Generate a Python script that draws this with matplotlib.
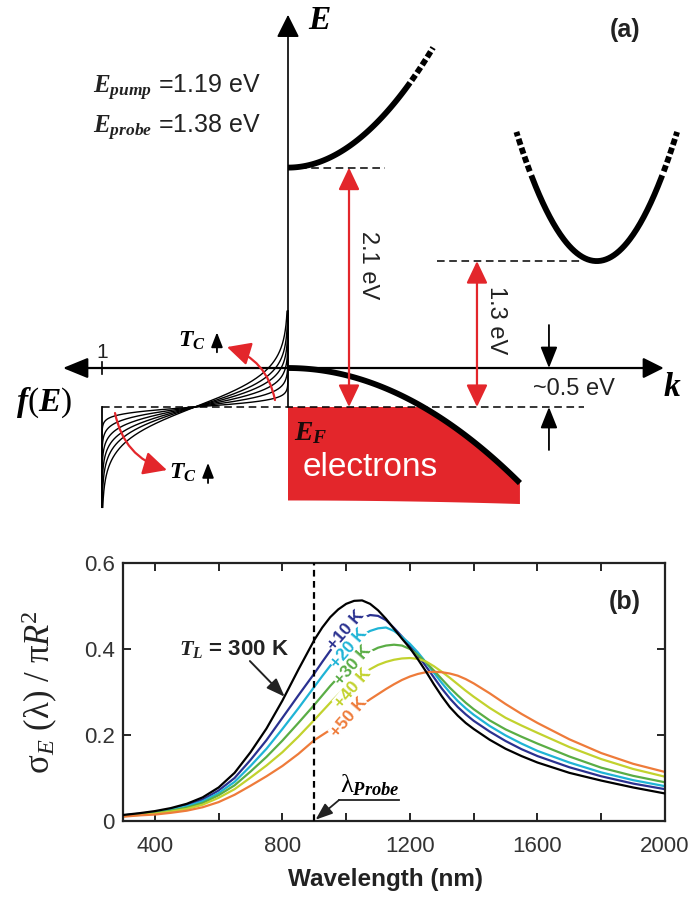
import numpy as np
import matplotlib.pyplot as plt

plt.rcParams['font.family'] = ['Liberation Sans', 'DejaVu Sans']
plt.rcParams['mathtext.fontset'] = 'custom'
plt.rcParams['mathtext.it'] = 'Liberation Serif:italic:bold'
plt.rcParams['mathtext.rm'] = 'Liberation Serif'
plt.rcParams['mathtext.sf'] = 'Liberation Serif:italic'
plt.rcParams['mathtext.bf'] = 'Liberation Serif:bold'

###################################################################
# panel (b): extinction cross section sigma_E / pi R^2
wavelength = [300, 350, 400, 450, 500, 550, 600, 650, 700, 750, 800, 850,
              900, 925, 950, 975, 1000, 1025, 1050, 1075, 1100, 1125, 1150, 1175, 1200,
              1225, 1250, 1275, 1300, 1325, 1350, 1375, 1400,
              1450, 1500, 1550, 1600, 1700, 1800, 1900, 2000]
sigma_300K = [0.014, 0.018, 0.023, 0.030, 0.040, 0.055, 0.078, 0.112, 0.160, 0.215, 0.280, 0.352,
              0.421, 0.450, 0.474, 0.492, 0.505, 0.512, 0.513, 0.505, 0.490, 0.470, 0.447, 0.424, 0.402,
              0.376, 0.348, 0.318, 0.290, 0.265, 0.245, 0.228, 0.214,
              0.189, 0.168, 0.151, 0.136, 0.112, 0.094, 0.078, 0.064]
sigma_p10 = [0.013, 0.017, 0.021, 0.028, 0.037, 0.050, 0.071, 0.100, 0.142, 0.188, 0.240, 0.292,
             0.343, 0.370, 0.396, 0.420, 0.440, 0.457, 0.471, 0.479, 0.477, 0.467, 0.449, 0.429, 0.408,
             0.385, 0.360, 0.334, 0.308, 0.285, 0.265, 0.248, 0.233,
             0.208, 0.186, 0.167, 0.151, 0.125, 0.104, 0.087, 0.074]
sigma_p20 = [0.013, 0.016, 0.020, 0.026, 0.034, 0.046, 0.065, 0.091, 0.128, 0.168, 0.214, 0.262,
             0.312, 0.337, 0.361, 0.384, 0.403, 0.419, 0.432, 0.442, 0.448, 0.450, 0.442, 0.428, 0.412,
             0.392, 0.369, 0.345, 0.321, 0.299, 0.279, 0.262, 0.247,
             0.221, 0.199, 0.180, 0.163, 0.136, 0.113, 0.095, 0.081]
sigma_p30 = [0.012, 0.015, 0.018, 0.024, 0.031, 0.042, 0.060, 0.083, 0.115, 0.149, 0.187, 0.228,
             0.270, 0.292, 0.314, 0.334, 0.352, 0.368, 0.382, 0.394, 0.403, 0.408, 0.410, 0.408, 0.400,
             0.386, 0.369, 0.350, 0.330, 0.310, 0.292, 0.275, 0.260,
             0.234, 0.213, 0.196, 0.180, 0.150, 0.124, 0.105, 0.090]
sigma_p40 = [0.011, 0.014, 0.017, 0.022, 0.028, 0.038, 0.054, 0.074, 0.101, 0.129, 0.160, 0.196,
             0.235, 0.255, 0.275, 0.294, 0.311, 0.327, 0.341, 0.353, 0.363, 0.370, 0.375, 0.378, 0.379,
             0.377, 0.371, 0.360, 0.347, 0.333, 0.318, 0.303, 0.289,
             0.263, 0.240, 0.222, 0.205, 0.172, 0.144, 0.121, 0.103]
sigma_p50 = [0.010, 0.013, 0.015, 0.019, 0.024, 0.032, 0.044, 0.061, 0.082, 0.104, 0.128, 0.156,
             0.188, 0.200, 0.212, 0.226, 0.241, 0.256, 0.270, 0.283, 0.295, 0.307, 0.318, 0.328, 0.336,
             0.342, 0.346, 0.347, 0.346, 0.343, 0.338, 0.330, 0.320,
             0.297, 0.272, 0.249, 0.228, 0.190, 0.158, 0.133, 0.114]
hot_curves = [sigma_p10, sigma_p20, sigma_p30, sigma_p40, sigma_p50]
hot_labels = ['+10 K', '+20 K', '+30 K', '+40 K', '+50 K']
hot_colors = ['#2a3190', '#1fb4d6', '#5aad45', '#c2d22e', '#ee7b3a']
label_pos = [(1000, 0.444), (1009, 0.402), (1022, 0.362), (1022, 0.309), (1009, 0.240)]
probe_nm = 900

# panel (a): band sketch, energies in eV above E_F, k in arb. units
cb_gamma_min = 2.10
cb_gamma_curv = 1.73
cb_L_min = 1.28
cb_L_k = 1.66
cb_L_curv = 6.07
vb_top = 0.342
vb_curv = 0.649
fermi_kT = [0.03, 0.055, 0.08, 0.105, 0.13, 0.16]
red = '#e3262b'

###################################################################
fig = plt.figure(figsize=(6.88, 9.05), dpi=100)

# sketch axes: 186 px per k unit, 114 px per eV, E axis at x px 288, E_F at y px 407
k_px, ev_px = 186.0, 114.0
ax = fig.add_axes([0, 0, 1, 1])
ax.set_xlim(-288 / k_px, (688 - 288) / k_px)
ax.set_ylim((407 - 905) / ev_px, 407 / ev_px)
ax.axis('off')

def arrow(ax, start, tip, color='k', lw=1.3, style='-|>', hl=0.8, hw=0.4, ms=14, **kw):
    ax.annotate('', xy=tip, xytext=start,
                arrowprops=dict(arrowstyle=f'{style},head_length={hl},head_width={hw}',
                                color=color, lw=lw, shrinkA=0, shrinkB=0,
                                mutation_scale=ms, **kw))

# axes of the sketch
arrow(ax, (0, 0), (0, 3.44), lw=1.2, hl=1.0, hw=0.5)
arrow(ax, (0, vb_top), (2.02, vb_top), lw=1.6, hl=0.9, hw=0.45)
arrow(ax, (0, vb_top), (-1.21, vb_top), lw=1.6, hl=1.1, hw=0.45)
ax.plot([-1, -1], [vb_top - 0.055, vb_top + 0.055], color='k', lw=1.2)
ax.text(-1, 0.48, '1', fontsize=15, ha='center', va='center', color='#222222')
ax.text(0.167, 3.386, r'$E$', fontsize=24, ha='center', va='center')
ax.text(2.065, 0.175, r'$k$', fontsize=24, ha='center', va='center')
ax.text(-1.312, 0.035, r'$f(E)$', fontsize=24, ha='center', va='center')

# Fermi-Dirac distributions for rising carrier temperature
E = np.linspace(-0.88, 0.84, 400)
for kT in fermi_kT:
    ax.plot(-1 / (1 + np.exp(E / kT)), E, color='k', lw=1.0)
ax.plot([-1, -1], [0, -0.88], color='k', lw=1.3)
ax.plot([-1, 1.59], [0, 0], color='k', lw=1.1, ls=(0, (5, 3)))

# filled electron sea below E_F
k_cross = np.sqrt(vb_top / vb_curv)
k_end = 1.247
kt = np.linspace(k_cross, k_end, 60)
kb = np.linspace(k_end, 0, 60)
xs = np.concatenate([[0], kt, kb])
ys = np.concatenate([[0], vb_top - vb_curv * kt ** 2, -0.82 - 0.02 * kb ** 2])
ax.fill(xs, ys, color=red, lw=0, zorder=1)

# bands
kv = np.linspace(0, k_end, 100)
ax.plot(kv, vb_top - vb_curv * kv ** 2, color='k', lw=4.2, solid_capstyle='butt', zorder=3)
kg = np.linspace(0, 0.656, 100)
ax.plot(kg, cb_gamma_min + cb_gamma_curv * kg ** 2, color='k', lw=4.2, solid_capstyle='butt')
kg2 = np.linspace(0.665, 0.78, 30)
ax.plot(kg2, cb_gamma_min + cb_gamma_curv * kg2 ** 2, color='k', lw=4.2, ls=(0, (1.1, 0.5)))
kl = np.linspace(-0.352, 0.352, 150)
ax.plot(cb_L_k + kl, cb_L_min + cb_L_curv * kl ** 2, color='k', lw=4.2, solid_capstyle='butt')
for s in (-1, 1):
    kl2 = s * np.linspace(0.36, 0.432, 30)
    ax.plot(cb_L_k + kl2, cb_L_min + cb_L_curv * kl2 ** 2, color='k', lw=4.2, ls=(0, (1.1, 0.5)))

ax.plot([0.06, 0.52], [cb_gamma_min, cb_gamma_min], color='k', lw=1.1, ls=(0, (5, 3)))
ax.plot([0.80, 1.586], [cb_L_min, cb_L_min], color='k', lw=1.1, ls=(0, (5, 3)))

# transitions
arrow(ax, (0.328, 0), (0.328, cb_gamma_min), color=red, lw=1.6, style='<|-|>', hl=0.8, hw=0.38, ms=17)
arrow(ax, (1.016, 0), (1.016, cb_L_min), color=red, lw=1.6, style='<|-|>', hl=0.8, hw=0.38, ms=17)
ax.text(0.43, 1.246, '2.1 eV', fontsize=17, rotation=-90, ha='center', va='center', color='#222222')
ax.text(1.118, 0.763, '1.3 eV', fontsize=17, rotation=-90, ha='center', va='center', color='#222222')

arrow(ax, (1.403, 0.719), (1.403, vb_top), lw=1.3, hl=1.0, hw=0.4, ms=13)
arrow(ax, (1.403, -0.377), (1.403, 0), lw=1.3, hl=1.0, hw=0.4, ms=13)
ax.text(1.538, 0.158, '~0.5 eV', fontsize=17, ha='center', va='center', color='#222222')

ax.text(0.124, -0.228, r'$E_F$', fontsize=20, ha='center', va='center', color='#1a0a0a', zorder=4)
ax.text(0.441, -0.535, 'electrons', fontsize=24, ha='center', va='center', color='white', zorder=4)

ax.text(-1.048, 2.754, r'$E_{pump}$ =1.19 eV', fontsize=18, ha='left', va='baseline', color='#222222')
ax.text(-1.048, 2.404, r'$E_{probe}$ =1.38 eV', fontsize=18, ha='left', va='baseline', color='#222222')

# carrier temperature hints
ax.text(-0.516, 0.579, r'$T_C$', fontsize=17, ha='center', va='center')
arrow(ax, (-0.382, 0.48), (-0.382, 0.655), lw=1.3, hl=0.9, hw=0.35, ms=10)
ax.text(-0.565, -0.579, r'$T_C$', fontsize=17, ha='center', va='center')
arrow(ax, (-0.43, -0.667), (-0.43, -0.49), lw=1.3, hl=0.9, hw=0.35, ms=10)
arrow(ax, (-0.07, 0.061), (-0.328, 0.526), color=red, lw=1.6, hl=0.9, hw=0.45, ms=16,
      connectionstyle='arc3,rad=0.3')
arrow(ax, (-0.93, -0.053), (-0.651, -0.553), color=red, lw=1.6, hl=0.9, hw=0.45, ms=16,
      connectionstyle='arc3,rad=0.3')

ax.text(1.812, 3.307, '(a)', fontsize=18, fontweight='bold', ha='center', va='center', color='#222222')

###################################################################
bx = fig.add_axes([123 / 688, 84 / 905, 542 / 688, 258 / 905])
for vals, c in zip(hot_curves, hot_colors):
    bx.plot(wavelength, vals, color=c, lw=1.6, zorder=2)
bx.plot(wavelength, sigma_300K, color='k', lw=1.6, zorder=4)
for (x, y), lab, c in zip(label_pos, hot_labels, hot_colors):
    bx.text(x, y, lab, color=c, fontsize=12.5, fontweight='bold', rotation=49,
            rotation_mode='anchor', ha='center', va='center', zorder=3,
            bbox=dict(fc='white', ec='none', pad=0.4))
bx.axvline(probe_nm, color='k', lw=1.6, ls=(0, (3, 2)), zorder=5)

bx.set_xlim(300, 2000)
bx.set_ylim(0, 0.6)
xt = list(range(400, 2001, 200))
bx.set_xticks(xt)
bx.set_xticklabels([str(v) if v % 400 == 0 else '' for v in xt])
bx.set_yticks([0, 0.2, 0.4, 0.6])
bx.set_yticklabels(['0', '0.2', '0.4', '0.6'])
bx.tick_params(direction='in', top=True, right=True, length=6, width=1.2,
               labelsize=16, labelcolor='#333333')
bx.tick_params(axis='x', pad=11)
bx.tick_params(axis='y', pad=6)
for sp in bx.spines.values():
    sp.set_linewidth(1.6)
    sp.set_color('#222222')

bx.set_xlabel('Wavelength (nm)', fontsize=17.5, fontweight='bold', color='#222222')
bx.xaxis.set_label_coords((385 - 123) / 542, -(868 - 821) / 258)
bx.set_ylabel(r'$\mathrm{\sigma}_{\mathsf{E}}\ (\mathrm{\lambda})\ /\ \mathrm{\pi}\mathsf{R}^2$',
              fontsize=25, color='#222222')
bx.yaxis.set_label_coords(-(123 - 60) / 542, 0.5)

bx.text(647, 0.400, r'$T_L$ = 300 K', fontsize=16, fontweight='bold', ha='center', va='center',
        color='#222222')
bx.annotate('', xy=(807, 0.289), xytext=(698, 0.372),
            arrowprops=dict(arrowstyle='-|>,head_length=0.8,head_width=0.3', color='#222222',
                            lw=1.4, shrinkA=0, shrinkB=0, mutation_scale=14))
bx.annotate('', xy=(904, 0.003), xytext=(978, 0.049),
            arrowprops=dict(arrowstyle='-|>,head_length=0.8,head_width=0.3', color='#222222',
                            lw=1.3, shrinkA=0, shrinkB=0, mutation_scale=13))
bx.plot([978, 1165], [0.049, 0.049], color='#222222', lw=1.3)
bx.text(980, 0.053, r'$\mathrm{\lambda}_{Probe}$', fontsize=19, ha='left', va='bottom')
bx.text((625 - 123) / 542, (821 - 602) / 258, '(b)', transform=bx.transAxes, fontsize=18,
        fontweight='bold', ha='center', va='center', color='#222222')

fig.savefig('out.png', dpi=100)
